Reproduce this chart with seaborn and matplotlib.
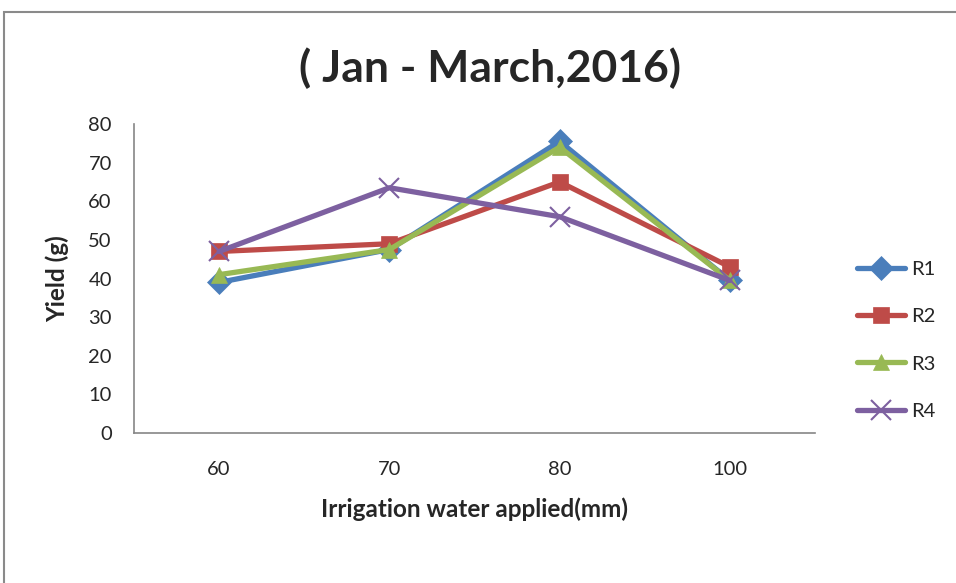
import matplotlib
matplotlib.use("Agg")
import matplotlib.pyplot as plt
from matplotlib.patches import Rectangle
import seaborn as sns
import pandas as pd

# data
water = ["60", "70", "80", "100"]
r1 = [39, 47.5, 75.5, 39.5]
r2 = [47, 49, 65, 43]
r3 = [41, 47.5, 74, 39.5]
r4 = [47, 63.5, 56, 39.5]
series_names = ["R1", "R2", "R3", "R4"]
y_ticks = [0, 10, 20, 30, 40, 50, 60, 70, 80]

colors = ["#4A7EBB", "#BE4B48", "#98B954", "#7D60A0"]
markers = ["D", "s", "^", "x"]

sns.set_style("white")
plt.rcParams["font.family"] = ["Lato", "DejaVu Sans"]

df = pd.DataFrame({
    "water": water * 4,
    "yield": r1 + r2 + r3 + r4,
    "series": [n for n in series_names for _ in water],
})

fig = plt.figure(figsize=(9.56, 5.83), dpi=100)
ax = fig.add_axes([134 / 956, 1 - 433 / 583, (815 - 134) / 956, (433 - 124) / 583])

for name, c, m in zip(series_names, colors, markers):
    sub = df[df["series"] == name]
    sns.lineplot(data=sub, x="water", y="yield", ax=ax, color=c, marker=m,
                 markersize=12 if m != "x" else 14, linewidth=3.8, sort=False,
                 markeredgecolor=c, markeredgewidth=1.5 if m == "x" else 0.5,
                 label=name)

ax.set_xlim(-0.5, 3.5)
ax.set_ylim(0, 80)
ax.set_yticks(y_ticks)
ax.tick_params(axis="both", labelsize=14.5, length=0)
ax.tick_params(axis="y", pad=16)
ax.tick_params(axis="x", pad=20)
for s in ["top", "right"]:
    ax.spines[s].set_visible(False)
for s in ["left", "bottom"]:
    ax.spines[s].set_color("#868686")
    ax.spines[s].set_linewidth(1.2)

ax.set_xlabel("Irrigation water applied(mm)", fontsize=17.5, fontweight="bold", labelpad=14)
ax.set_ylabel("Yield (g)", fontsize=17.5, fontweight="bold", labelpad=14)

fig.text(490 / 956, 1 - 68 / 583, "( Jan - March,2016)", fontsize=32, fontweight="bold",
         ha="center", va="center")

leg = ax.legend(loc="center left", bbox_to_anchor=(1.035, 0.30), frameon=False,
                fontsize=14.5, labelspacing=1.5, handlelength=2.4, handletextpad=0.3)

# chart area border
fig.patches.append(Rectangle((4 / 956, -0.1), 1.2, 1 - 12 / 583 + 0.1,
                             transform=fig.transFigure, fill=False,
                             edgecolor="#8a8a8a", linewidth=1.5))

fig.savefig("out.png", dpi=100)
